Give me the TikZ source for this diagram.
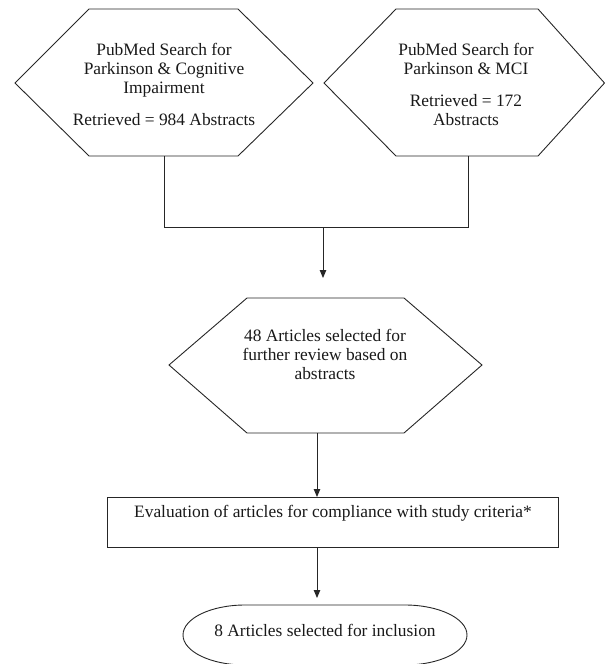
\documentclass[tikz,border=0pt]{standalone}
\usepackage{fontspec}
\setmainfont{Liberation Serif}
\usetikzlibrary{arrows.meta}
\begin{document}
\begin{tikzpicture}[x=1pt,y=-1pt,
  line/.style={draw=black!85, line width=0.9pt},
  arr/.style={line, -{Triangle[length=8pt,width=6.5pt]}},
  txt/.style={align=center, text=black!90, font=\fontsize{17.4}{19}\selectfont, inner sep=0pt}]
\useasboundingbox (0,0) rectangle (605,664);
\newcommand\hexag[7]{\draw[line] (#1,#6) -- (#2,#5) -- (#3,#5) -- (#4,#6) -- (#3,#7) -- (#2,#7) -- cycle;}
% hexagons
\hexag{15}{89}{238}{313}{9}{83}{156}
\hexag{324}{396}{538}{604.5}{9}{83}{156}
\hexag{169}{247}{404}{482}{298}{365}{433}
\node[txt] (h1) at (164,84) {PubMed Search for\\Parkinson \& Cognitive\\Impairment\\[13pt]Retrieved = 984 Abstracts};
\node[txt] (h2) at (466,84) {PubMed Search for\\Parkinson \& MCI\\[13pt]Retrieved = 172\\Abstracts};
\node[txt] (h3) at (325,354) {48 Articles selected for\\further review based on\\abstracts};
\coordinate (h1b) at (164,156);
\coordinate (h2b) at (468,156);
\coordinate (j1) at (164,227);
\coordinate (j2) at (468,227);
\coordinate (jm) at (323,227);
\coordinate (h3t) at (323,278);
\coordinate (h3b) at (317,433);
% rectangle
\node[line, minimum width=451pt, minimum height=50pt, anchor=north west, inner sep=0pt] (ev) at (107,497) {};
\node[txt] (evt) at (333,513) {Evaluation of articles for compliance with study criteria*};
% stadium
\draw[line] (245,605) -- (405,605)
  .. controls (439,605) and (467,618.4) .. (467,635)
  .. controls (467,651.6) and (439,665) .. (405,665)
  -- (245,665)
  .. controls (211,665) and (183,651.6) .. (183,635)
  .. controls (183,618.4) and (211,605) .. (245,605) -- cycle;
\coordinate (st) at (317,598);
\node[txt] (stt) at (325,630) {8 Articles selected for inclusion};
% connectors
\draw[line] (h1b) -- (j1) -- (j2) -- (h2b);
\draw[arr] (jm) -- (h3t);
\draw[arr] (h3b) -- (ev.north -| h3b);
\draw[arr] (ev.south -| h3b) -- (st);
\end{tikzpicture}
\end{document}
